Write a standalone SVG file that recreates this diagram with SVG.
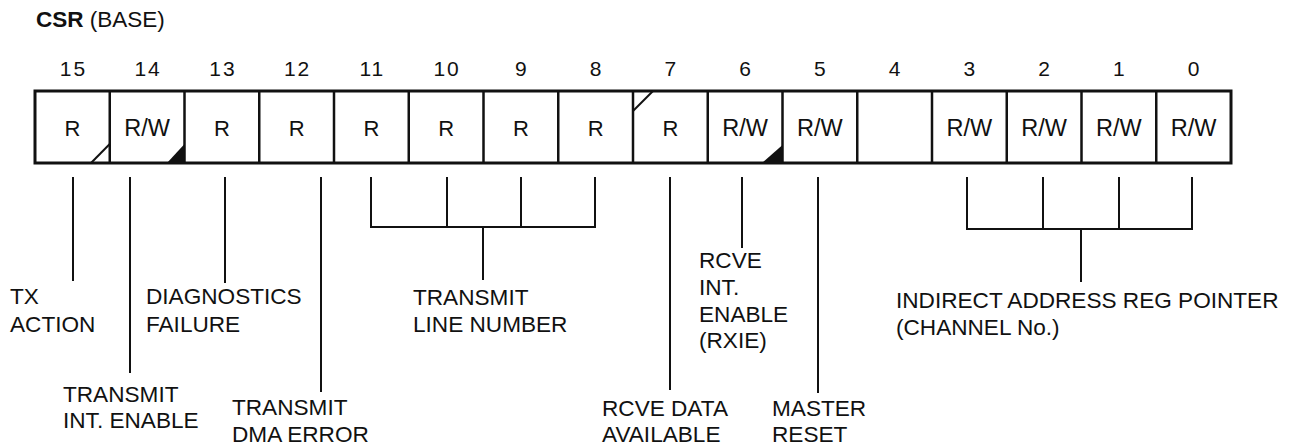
<svg xmlns="http://www.w3.org/2000/svg" width="1295" height="446" viewBox="0 0 1295 446">
<style>
text{font-family:"Liberation Sans",Arial,sans-serif;fill:#111}
.num{font-size:21px;text-anchor:middle;letter-spacing:2px}
.cell{font-size:22px;text-anchor:middle}
.rw{font-size:23.5px}
.lbl{font-size:22.6px}
.frame{fill:#fff;stroke:#111;stroke-width:3}
.div{stroke:#111;stroke-width:2.5}
.ln{stroke:#111;stroke-width:2;fill:none}
.fill{fill:#111}
</style>
<rect width="1295" height="446" fill="#fff"/>
<g id="title"><text x="36" y="27" style="font-size:22.5px"><tspan font-weight="bold">CSR</tspan> (BASE)</text></g>
<g id="register">
<rect class="frame" x="35" y="91" width="1196" height="72"/>
<path class="div" d="M109.75 91V163M184.5 91V163M259.25 91V163M334 91V163M408.75 91V163M483.5 91V163M558.25 91V163M633 91V163M707.75 91V163M782.5 91V163M857.25 91V163M932 91V163M1006.75 91V163M1081.5 91V163M1156.25 91V163"/>
<path class="ln" d="M91 163L109.75 144"/>
<polygon class="fill" points="167,163 184.5,163 184.5,144"/>
<path class="ln" d="M633 111L653 91"/>
<polygon class="fill" points="762,163 782.5,163 782.5,145"/>
</g>
<g id="bitnumbers">
<text class="num" x="73.4" y="76">15</text><text class="num" x="148.1" y="76">14</text><text class="num" x="222.9" y="76">13</text><text class="num" x="297.6" y="76">12</text><text class="num" x="372.4" y="76">11</text><text class="num" x="447.1" y="76">10</text><text class="num" x="521.9" y="76">9</text><text class="num" x="596.6" y="76">8</text><text class="num" x="671.4" y="76">7</text><text class="num" x="746.1" y="76">6</text><text class="num" x="820.9" y="76">5</text><text class="num" x="895.6" y="76">4</text><text class="num" x="970.4" y="76">3</text><text class="num" x="1045.1" y="76">2</text><text class="num" x="1119.9" y="76">1</text><text class="num" x="1194.6" y="76">0</text>
</g>
<g id="access">
<text class="cell" x="72.4" y="136">R</text><text class="cell rw" x="147.1" y="136">R/W</text><text class="cell" x="221.9" y="136">R</text><text class="cell" x="296.6" y="136">R</text><text class="cell" x="371.4" y="136">R</text><text class="cell" x="446.1" y="136">R</text><text class="cell" x="520.9" y="136">R</text><text class="cell" x="595.6" y="136">R</text><text class="cell" x="670.4" y="136">R</text><text class="cell rw" x="745.1" y="136">R/W</text><text class="cell rw" x="819.9" y="136">R/W</text><text class="cell rw" x="969.4" y="136">R/W</text><text class="cell rw" x="1044.1" y="136">R/W</text><text class="cell rw" x="1118.9" y="136">R/W</text><text class="cell rw" x="1193.6" y="136">R/W</text>
</g>
<g id="connectors">
<path class="ln" d="M73 177V281"/>
<path class="ln" d="M130 177V373"/>
<path class="ln" d="M225 177V283"/>
<path class="ln" d="M321 177V392"/>
<path class="ln" d="M371 177V227H595V177M447 177V227M521 177V227M483 227V280"/>
<path class="ln" d="M670 177V390"/>
<path class="ln" d="M742 177V248"/>
<path class="ln" d="M818 177V393"/>
<path class="ln" d="M967 177V229H1192V177M1043 177V229M1119 177V229M1081 229V282"/>
</g>
<g id="lbl-tx"><text class="lbl" x="10" y="304">TX</text><text class="lbl" x="10" y="332">ACTION</text></g>
<g id="lbl-txie"><text class="lbl" x="63" y="402">TRANSMIT</text><text class="lbl" x="63" y="428">INT. ENABLE</text></g>
<g id="lbl-diag"><text class="lbl" x="146" y="304">DIAGNOSTICS</text><text class="lbl" x="146" y="332">FAILURE</text></g>
<g id="lbl-dma"><text class="lbl" x="232" y="415">TRANSMIT</text><text class="lbl" x="232" y="442">DMA ERROR</text></g>
<g id="lbl-line"><text class="lbl" x="413" y="305">TRANSMIT</text><text class="lbl" x="413" y="332">LINE NUMBER</text></g>
<g id="lbl-rxie"><text class="lbl" x="699" y="268">RCVE</text><text class="lbl" x="699" y="295">INT.</text><text class="lbl" x="699" y="322">ENABLE</text><text class="lbl" x="699" y="348">(RXIE)</text></g>
<g id="lbl-rcve"><text class="lbl" x="602" y="416">RCVE DATA</text><text class="lbl" x="602" y="442">AVAILABLE</text></g>
<g id="lbl-reset"><text class="lbl" x="772" y="416">MASTER</text><text class="lbl" x="772" y="442">RESET</text></g>
<g id="lbl-ptr"><text class="lbl" x="896" y="308">INDIRECT ADDRESS REG POINTER</text><text class="lbl" x="896" y="335">(CHANNEL No.)</text></g>
</svg>
